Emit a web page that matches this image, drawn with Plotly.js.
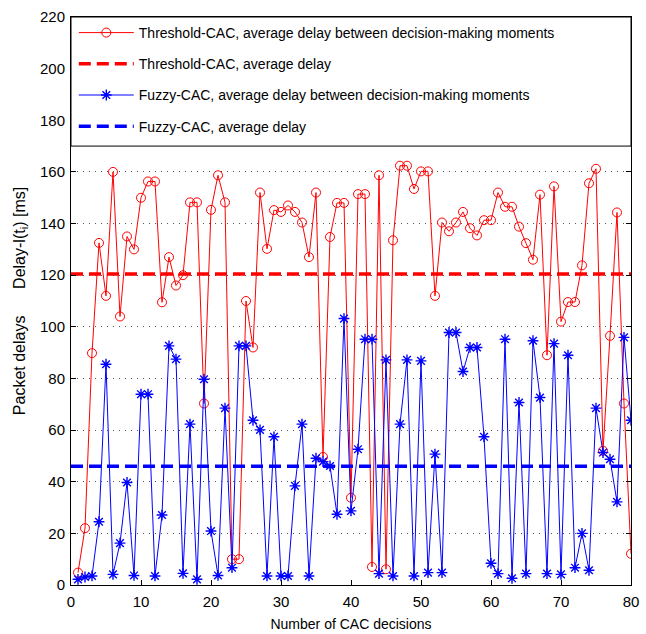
<!DOCTYPE html>
<html>
<head>
<meta charset="utf-8">
<script src="https://cdn.plot.ly/plotly-3.0.1.min.js"></script>
<style>html,body{margin:0;padding:0;background:#fff;}#chart{width:646px;height:634px;}</style>
</head>
<body>
<div id="chart"></div>
<script>
// Decision index 1..80
const decisions = [];
for (let i = 1; i <= 80; i++) decisions.push(i);

// Threshold-CAC, average delay between decision-making moments [ms]
const thresholdDelay = [
  4.8, 22, 89.8, 132.5, 112, 160, 104, 135, 130, 150,
  156.3, 156.3, 109.5, 127, 116, 120, 148.2, 148.2, 70.3, 145.3,
  158.7, 148.2, 10, 10, 110, 92, 152, 130.2, 145.2, 144.5,
  147, 144.5, 140.4, 127, 152, 49.6, 134.8, 148, 148, 33.8,
  151.4, 151.4, 7, 158.7, 6.1, 133.5, 162.4, 162.4, 153.4, 160.2,
  160.2, 112, 140.4, 137, 140.4, 144.5, 138.2, 135.4, 141.3, 141.3,
  152, 146.5, 146.5, 138.8, 132.4, 126, 151.2, 89, 154.4, 102,
  109.6, 109.6, 123.8, 155.6, 161.2, 52, 96.5, 144.3, 70.3, 12.1
];

// Fuzzy-CAC, average delay between decision-making moments [ms]
const fuzzyDelay = [
  2.2, 3.1, 3.5, 24.5, 85.5, 4.1, 16.2, 39.7, 3.7, 73.9,
  73.9, 3.5, 27.1, 92.6, 87.5, 4.5, 62.3, 2.2, 79.7, 20.9,
  3.7, 68.5, 6.7, 92.6, 92.6, 63.8, 60.1, 3.5, 57.4, 3.5,
  3.5, 38.4, 62.3, 3.5, 49.1, 47.8, 46.1, 27.4, 103.2, 28.7,
  52.6, 95.2, 95.2, 4.4, 87.2, 3.5, 62.3, 87.2, 3.5, 86.8,
  4.8, 50.7, 4.8, 97.8, 97.8, 82.7, 92, 92, 57.4, 8.4,
  4.4, 95.2, 2.6, 70.7, 4.4, 94.6, 72.6, 4.4, 93.5, 4.1,
  89, 6.7, 20, 5.7, 68.5, 51.3, 48.7, 32.2, 95.9, 63.8
];

// Average delays [ms]
const thresholdAverage = 120.5;
const fuzzyAverage = 46;

const xRange = [0, 80];
const yRange = [0, 220];
const yTicks = [0, 20, 40, 60, 80, 100, 120, 140, 160, 180, 200, 220];
const xTicks = [0, 10, 20, 30, 40, 50, 60, 70, 80];
const legendBoxBottom = 170;

const names = [
  'Threshold-CAC, average delay between decision-making moments',
  'Threshold-CAC, average delay',
  'Fuzzy-CAC, average delay between decision-making moments',
  'Fuzzy-CAC, average delay'
];

const traces = [
  {
    x: decisions, y: thresholdDelay, type: 'scatter', mode: 'lines+markers',
    name: names[0], legendgroup: 'a',
    line: {color: '#ff0000', width: 1},
    marker: {symbol: 'circle-open', size: 9, color: '#ff0000', line: {width: 1, color: '#ff0000'}}
  },
  {
    x: xRange, y: [thresholdAverage, thresholdAverage], type: 'scatter', mode: 'lines',
    name: names[1], legendgroup: 'b',
    line: {color: '#ff0000', width: 3.5, dash: '12px,6px'}
  },
  {
    x: decisions, y: fuzzyDelay, type: 'scatter', mode: 'lines+markers',
    name: names[2], legendgroup: 'c',
    line: {color: '#0000ff', width: 1},
    marker: {symbol: 'asterisk-open', size: 9, color: '#0000ff', line: {width: 1.4, color: '#0000ff'}}
  },
  {
    x: xRange, y: [fuzzyAverage, fuzzyAverage], type: 'scatter', mode: 'lines',
    name: names[3], legendgroup: 'd',
    line: {color: '#0000ff', width: 3.5, dash: '12px,6px'}
  }
];

const font = {family: 'Liberation Sans, Arial, sans-serif', size: 14, color: '#000'};

const layout = {
  width: 646, height: 634,
  margin: {l: 71, r: 15, t: 17, b: 49},
  paper_bgcolor: '#fff', plot_bgcolor: '#fff',
  font: font,
  showlegend: true,
  legend: {
    x: 0.005, y: 1.0, xanchor: 'left', yanchor: 'top',
    bgcolor: 'rgba(0,0,0,0)', borderwidth: 0,
    font: {family: font.family, size: 14, color: '#000'},
    traceorder: 'grouped', tracegroupgap: 10, itemwidth: 55
  },
  xaxis: {
    range: xRange, tickvals: xTicks, ticktext: xTicks.map(String),
    ticks: 'inside', ticklen: 5, tickcolor: '#000',
    showline: true, linecolor: '#000', linewidth: 1, mirror: 'ticks',
    showgrid: false, zeroline: false, ticklabelstandoff: 3,
    tickfont: {family: font.family, size: 15, color: '#000'},
    title: {text: 'Number of CAC decisions', font: {family: font.family, size: 14, color: '#000'}, standoff: 10}
  },
  yaxis: {
    range: yRange, tickvals: yTicks, ticktext: yTicks.map(String),
    ticks: 'inside', ticklen: 5, tickcolor: '#000',
    showline: true, linecolor: '#000', linewidth: 1, mirror: 'ticks',
    showgrid: true, gridcolor: '#555', gridwidth: 1, griddash: '1px,5px',
    zeroline: false, ticklabelstandoff: 2,
    tickfont: {family: font.family, size: 15, color: '#000'},
    title: {text: 'Packet delays\u00a0\u00a0\u00a0\u00a0\u00a0\u00a0Delay-l(t<sub>i</sub>) [ms]', font: {family: font.family, size: 16, color: '#000'}, standoff: 10}
  },
  shapes: [
    {type: 'rect', xref: 'paper', yref: 'y', x0: 0, x1: 1, y0: legendBoxBottom, y1: yRange[1],
     fillcolor: '#fff', line: {color: '#000', width: 1}, layer: 'above'}
  ]
};

Plotly.newPlot('chart', traces, layout, {displayModeBar: false, staticPlot: true});
</script>
</body>
</html>
